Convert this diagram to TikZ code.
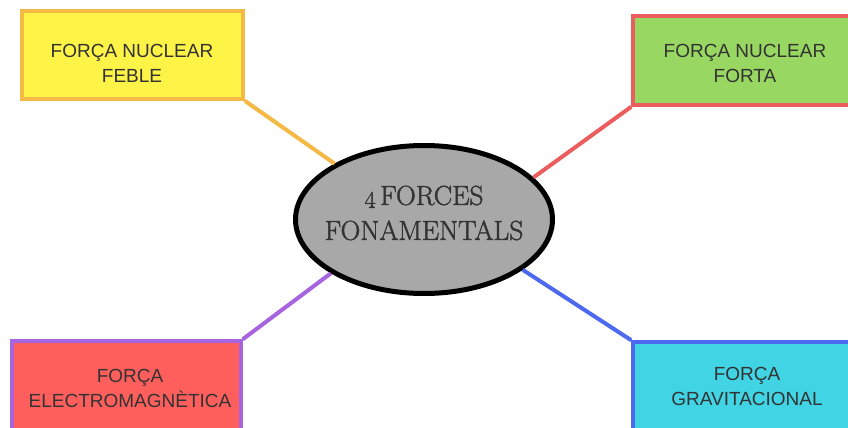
\documentclass[tikz,border=0pt]{standalone}
\usepackage{fontspec}
\newfontfamily\boxfont{Liberation Sans}
\newfontfamily\centrefont[FakeBold=1.6]{Latin Modern Roman}
\usetikzlibrary{shapes.geometric}
\definecolor{yfill}{HTML}{FEF347}
\definecolor{yline}{HTML}{F5B945}
\definecolor{gfill}{HTML}{98D761}
\definecolor{gline}{HTML}{EC5E5E}
\definecolor{rfill}{HTML}{FF5F5C}
\definecolor{rline}{HTML}{A864DF}
\definecolor{cfill}{HTML}{41D4E4}
\definecolor{cline}{HTML}{4C69EF}
\definecolor{efill}{HTML}{A8A8A8}
\definecolor{txt}{HTML}{333333}
\tikzset{
  forcebox/.style={rectangle, line width=3.5pt, inner sep=0pt},
  forcetext/.style={align=center, text=txt, inner sep=0pt, font=\boxfont\fontsize{19}{25}\selectfont},
  link/.style={line width=4pt},
  centre/.style={ellipse, draw=black, fill=efill, line width=5pt, inner sep=0pt, minimum width=257pt, minimum height=148pt},
  centretext/.style={align=center, text=txt, inner sep=0pt, font=\centrefont\fontsize{27.5}{35}\selectfont}
}
\begin{document}
\begin{tikzpicture}[x=1pt,y=-1pt]
\useasboundingbox[fill=white] (0,0) rectangle (848,428);
% boxes
\node[forcebox, fill=yfill, draw=yline, minimum width=221pt, minimum height=88pt] (feble) at (132.5,55) {};
\node[forcebox, fill=gfill, draw=gline, minimum width=218pt, minimum height=89pt] (forta) at (742,60.5) {};
\node[forcebox, fill=rfill, draw=rline, minimum width=229pt, minimum height=91pt] (em) at (126.5,386.5) {};
\node[forcebox, fill=cfill, draw=cline, minimum width=218pt, minimum height=90pt] (grav) at (742,387) {};
% box texts
\node[forcetext] (tfeble) at (132,63) {FORÇA NUCLEAR\\FEBLE};
\node[forcetext] (tforta) at (745,63) {FORÇA NUCLEAR\\FORTA};
\node[forcetext] (tem) at (130,388) {FORÇA\\ELECTROMAGNÈTICA};
\node[forcetext] (tgrav) at (747,386) {FORÇA\\GRAVITACIONAL};
% centre
\node[centre] (ell) at (424,219.5) {};
\node[centretext] (tell) at (424,213) {\raisebox{-3pt}{\fontsize{24}{24}\selectfont 4}\,FORCES\\FONAMENTALS};
% connectors
\draw[link, yline] (feble.south east) -- (ell.148);
\draw[link, gline] (forta.south west) -- (ell.21);
\draw[link, rline] (em.north east) -- (ell.210);
\draw[link, cline] (grav.north west) -- (ell.333);
\end{tikzpicture}
\end{document}
